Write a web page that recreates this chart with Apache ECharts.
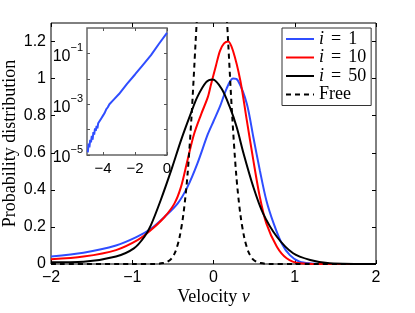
<!DOCTYPE html>
<html><head><meta charset="utf-8">
<script src="https://cdn.jsdelivr.net/npm/echarts@6/dist/echarts.min.js"></script>
<style>html,body{margin:0;padding:0;background:#fff}#c{width:415px;height:313px}</style>
</head><body><div id="c"></div>
<script>
// ---- data ----
const seriesNames = ['i = 1', 'i = 10', 'i = 50', 'Free'];
const i1X = [-2, -1.6, -1.2, -0.95, -0.77, -0.6, -0.44, -0.32, -0.2, -0.07, 0.0, 0.08, 0.16, 0.24, 0.3, 0.41, 0.49, 0.57, 0.65, 0.74, 0.84, 0.94, 1.06, 1.2, 1.4, 2];
const i1Y = [0.04, 0.061, 0.1, 0.145, 0.19, 0.255, 0.327, 0.416, 0.54, 0.70, 0.77, 0.85, 0.945, 1.0, 0.99, 0.865, 0.685, 0.506, 0.344, 0.219, 0.111, 0.048, 0.012, 0.003, 0, 0];
const i10X = [-2, -1.6, -1.2, -0.93, -0.77, -0.6, -0.48, -0.4, -0.32, -0.24, -0.15, -0.07, -0.03, 0.03, 0.08, 0.13, 0.18, 0.24, 0.33, 0.41, 0.49, 0.57, 0.65, 0.78, 0.9, 1.06, 1.3, 2];
const i10Y = [0.025, 0.04, 0.075, 0.13, 0.183, 0.255, 0.327, 0.416, 0.56, 0.70, 0.81, 0.90, 0.97, 1.07, 1.15, 1.19, 1.20, 1.15, 0.99, 0.775, 0.56, 0.362, 0.219, 0.093, 0.031, 0.004, 0, 0];
const i50X = [-2, -1.6, -1.2, -0.98, -0.85, -0.77, -0.65, -0.52, -0.4, -0.28, -0.2, -0.09, -0.01, 0.1, 0.2, 0.285, 0.37, 0.49, 0.61, 0.78, 0.98, 1.19, 1.43, 2];
const i50Y = [0.009, 0.012, 0.04, 0.084, 0.147, 0.21, 0.344, 0.506, 0.667, 0.811, 0.90, 0.981, 0.995, 0.945, 0.847, 0.739, 0.596, 0.416, 0.273, 0.147, 0.058, 0.022, 0.004, 0];
const freeX = [-2, -1, -0.72, -0.62, -0.57, -0.52, -0.47, -0.42, -0.37, -0.32, -0.27, -0.22, -0.17, -0.12, -0.02, 0.08, 0.13, 0.18, 0.23, 0.28, 0.33, 0.38, 0.43, 0.48, 0.53, 0.58, 0.68, 1, 2];
const freeY = [0, 0, 0, 0.005, 0.012, 0.028, 0.065, 0.14, 0.27, 0.48, 0.8, 1.2, 1.6, 2.0, 2.5, 2.0, 1.6, 1.2, 0.8, 0.48, 0.27, 0.14, 0.065, 0.028, 0.012, 0.005, 0, 0, 0];
// inset: i = 1 tail, log10 of probability
const insetX = [-4.95, -4.9, -4.85, -4.8, -4.75, -4.7, -4.65, -4.6, -4.55, -4.5, -4.45, -4.4, -4.35, -4.3, -4.2, -4.1, -4.0, -3.9, -3.8, -3.7, -3.6, -3.5, -3.3, -3.0, -2.5, -2.0, -1.5, -1.0, -0.5, 0];
const insetLogY = [-4.9, -4.55, -4.7, -4.4, -4.5, -4.25, -4.4, -4.1, -4.2, -3.95, -4.05, -3.85, -3.95, -3.75, -3.7, -3.55, -3.45, -3.35, -3.2, -3.12, -3.0, -2.95, -2.8, -2.6, -2.2, -1.83, -1.45, -1.07, -0.62, -0.19];
const mainXTicks = [-2, -1, 0, 1, 2];
const mainYTicks = [0, 0.2, 0.4, 0.6, 0.8, 1, 1.2];
const insetXTicks = [-4, -2, 0];
const insetYTicks = [-5, -4, -3, -2, -1];
const insetYLabels = [-5, -3, -1];

function pairs(xs, ys) { return xs.map((x, k) => [x, ys[k]]); }
const minus = v => String(v).replace('-', '\u2212');

const sans = 'Liberation Sans';
const serif = 'Liberation Serif';
const chart = echarts.init(document.getElementById('c'), null, { renderer: 'canvas' });

const mainTick = { show: true, inside: true, length: 4, lineStyle: { color: '#000', width: 1 } };
const insetTick = { show: true, inside: true, length: 3, lineStyle: { color: '#555', width: 1 } };
const noLine = { show: false, onZero: false };

const option = {
  animation: false,
  backgroundColor: '#fff',
  grid: [
    { left: 51, top: 23, width: 325, height: 241, show: true, borderColor: '#000', borderWidth: 1, backgroundColor: '#fff', containLabel: false, outerBoundsMode: 'none' },
    { left: 87, top: 28, width: 80, height: 127, show: true, borderColor: '#666', borderWidth: 1.5, backgroundColor: '#fff', containLabel: false, outerBoundsMode: 'none', z: 10 }
  ],
  legend: {
    data: seriesNames,
    left: 282, top: 28, orient: 'vertical',
    backgroundColor: '#fff', borderColor: '#333', borderWidth: 1,
    padding: [2, 5, 2, 3], itemGap: 0.5, itemWidth: 28, itemHeight: 13,
    z: 20,
    itemStyle: { opacity: 0 },
    textStyle: {
      fontFamily: serif, fontSize: 18, color: '#000', lineHeight: 13,
      rich: {
        i: { fontFamily: serif, fontSize: 18, fontStyle: 'italic', color: '#000', lineHeight: 13 },
        eq: { fontFamily: serif, fontSize: 18, color: '#000', padding: [0, 7, 0, 7], lineHeight: 13 },
        n: { fontFamily: serif, fontSize: 18, color: '#000', lineHeight: 13 },
        t: { fontFamily: serif, fontSize: 18, color: '#000', lineHeight: 13 }
      }
    },
    formatter: name => name === 'Free' ? '{t|Free}' : '{i|i}{eq|=}{n|' + name.split('= ')[1] + '}'
  },
  xAxis: [
    { gridIndex: 0, type: 'value', min: -2, max: 2, interval: 1, position: 'bottom',
      axisLine: noLine, splitLine: { show: false }, axisTick: mainTick,
      axisLabel: { fontFamily: sans, fontSize: 16, color: '#000', margin: 6, formatter: v => minus(v) },
      name: '{a|Velocity }{b|v}', nameLocation: 'middle', nameGap: 24, nameMoveOverlap: false,
      nameTextStyle: { fontFamily: serif, fontSize: 18, color: '#000',
        rich: { a: { fontFamily: serif, fontSize: 18, color: '#000' }, b: { fontFamily: serif, fontSize: 18, fontStyle: 'italic', color: '#000' } } } },
    { gridIndex: 0, type: 'value', min: -2, max: 2, interval: 1, position: 'top',
      axisLine: noLine, splitLine: { show: false }, axisTick: mainTick, axisLabel: { show: false } },
    { gridIndex: 1, type: 'value', min: -5, max: 0, position: 'bottom', z: 11,
      axisLine: noLine, splitLine: { show: false },
      axisTick: Object.assign({ customValues: insetXTicks }, insetTick),
      axisLabel: { customValues: insetXTicks, fontFamily: sans, fontSize: 15, color: '#000', margin: 6, formatter: v => minus(v) } },
    { gridIndex: 1, type: 'value', min: -5, max: 0, position: 'top', z: 11,
      axisLine: noLine, splitLine: { show: false },
      axisTick: Object.assign({ customValues: insetXTicks }, insetTick), axisLabel: { show: false } }
  ],
  yAxis: [
    { gridIndex: 0, type: 'value', min: 0, max: 1.3, position: 'left',
      axisLine: noLine, splitLine: { show: false },
      axisTick: Object.assign({ customValues: mainYTicks }, mainTick),
      axisLabel: { customValues: mainYTicks, fontFamily: sans, fontSize: 16, color: '#000', margin: 5 },
      name: 'Probability distribution', nameLocation: 'middle', nameGap: 32, nameMoveOverlap: false,
      nameTextStyle: { fontFamily: serif, fontSize: 18, color: '#000' } },
    { gridIndex: 0, type: 'value', min: 0, max: 1.3, position: 'right',
      axisLine: noLine, splitLine: { show: false },
      axisTick: Object.assign({ customValues: mainYTicks }, mainTick), axisLabel: { show: false } },
    { gridIndex: 1, type: 'value', min: -5, max: 0, position: 'left', z: 11,
      axisLine: noLine, splitLine: { show: false },
      axisTick: Object.assign({ customValues: insetYTicks }, insetTick),
      axisLabel: { customValues: insetYLabels, margin: 4, color: '#000',
        formatter: v => '{b|10}{s|' + minus(v) + '}',
        rich: { b: { fontFamily: sans, fontSize: 16, color: '#000', verticalAlign: 'bottom', padding: [6, 0, 0, 0] },
                s: { fontFamily: sans, fontSize: 11, color: '#000', verticalAlign: 'top', padding: [0, 0, 8, 0] } } } },
    { gridIndex: 1, type: 'value', min: -5, max: 0, position: 'right', z: 11,
      axisLine: noLine, splitLine: { show: false },
      axisTick: Object.assign({ customValues: insetYTicks }, insetTick), axisLabel: { show: false } }
  ],
  series: [
    { name: seriesNames[0], type: 'line', xAxisIndex: 0, yAxisIndex: 0, data: pairs(i1X, i1Y), showSymbol: false, symbol: 'none',
      smooth: 0.3, lineStyle: { color: '#2f4dff', width: 2 }, itemStyle: { color: '#2f4dff' } },
    { name: seriesNames[1], type: 'line', xAxisIndex: 0, yAxisIndex: 0, data: pairs(i10X, i10Y), showSymbol: false, symbol: 'none',
      smooth: 0.3, lineStyle: { color: '#ff0000', width: 2 }, itemStyle: { color: '#ff0000' } },
    { name: seriesNames[2], type: 'line', xAxisIndex: 0, yAxisIndex: 0, data: pairs(i50X, i50Y), showSymbol: false, symbol: 'none',
      smooth: 0.3, lineStyle: { color: '#000', width: 2 }, itemStyle: { color: '#000' } },
    { name: seriesNames[3], type: 'line', xAxisIndex: 0, yAxisIndex: 0, data: pairs(freeX, freeY), showSymbol: false, symbol: 'none',
      smooth: 0.3, lineStyle: { color: '#000', width: 2, type: [5, 4] }, itemStyle: { color: '#000' } },
    { name: 'inset', type: 'line', xAxisIndex: 2, yAxisIndex: 2, data: pairs(insetX, insetLogY), showSymbol: false, symbol: 'none',
      z: 12, lineStyle: { color: '#2f4dff', width: 2 }, itemStyle: { color: '#2f4dff' } }
  ]
};
chart.setOption(option);
</script>
</body></html>
